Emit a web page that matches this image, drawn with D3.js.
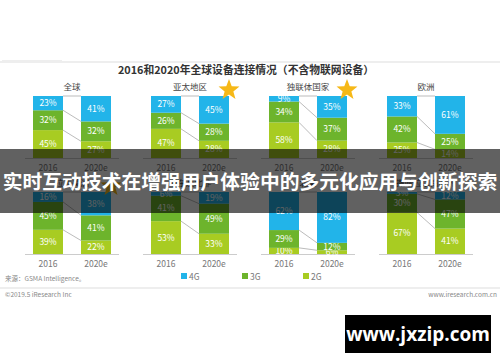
<!DOCTYPE html>
<html>
<head>
<meta charset="utf-8">
<script src="https://cdn.jsdelivr.net/npm/d3@7"></script>
<style>
  body { margin: 0; background: #fff; }
  svg { display: block; font-family: "Noto Sans CJK SC", "Noto Sans", sans-serif; }
</style>
</head>
<body>
<div id="chart"></div>
<script>

// regions, top row then bottom row
const regions = ["全球", "亚太地区", "独联体国家", "欧洲", "拉丁美洲", "中东及北非", "北美", "撒哈拉以南非洲"];
const years = ["2016", "2020e"];
const keys = ["4G", "3G", "2G"];

// share per region (%), index matches regions
const g4_2016 = [23, 27, 9, 33, 16, 6, 62, 3];
const g3_2016 = [32, 26, 34, 42, 45, 41, 29, 30];
const g2_2016 = [45, 47, 58, 25, 39, 53, 10, 67];
const g4_2020 = [41, 45, 35, 61, 38, 19, 82, 12];
const g3_2020 = [32, 28, 37, 25, 41, 49, 12, 47];
const g2_2020 = [27, 28, 28, 14, 22, 33, 6, 41];

const starred = ["亚太地区", "独联体国家", "拉丁美洲"];

const colors = { "4G": "#22b4e9", "3G": "#6db42c", "2G": "#a8cc22" };

const W = 500, H = 362;
const svg = d3.select("#chart").append("svg").attr("width", W).attr("height", H);

// header rule + title
svg.append("line").attr("x1", 0).attr("x2", W).attr("y1", 62).attr("y2", 62)
  .attr("stroke", "#ddd").attr("stroke-width", 1);
svg.append("rect").attr("x", 2).attr("y", 60).attr("width", 60).attr("height", 2).attr("fill", "#eee");
svg.append("text").attr("x", 246).attr("y", 74).attr("text-anchor", "middle")
  .attr("font-size", 10.8).attr("font-weight", "bold").attr("fill", "#333")
  .text("2016和2020年全球设备连接情况（不含物联网设备）");

const xPanel = d3.scaleBand().domain(d3.range(4)).range([13, 485]);
const xYear = d3.scaleBand().domain(years).range([-39, 39]).paddingInner(0.375);
const rows = [d3.scaleLinear().domain([0, 1]).range([158, 96]),
              d3.scaleLinear().domain([0, 1]).range([254, 192])];

const stack = d3.stack().keys(["2G", "3G", "4G"]).offset(d3.stackOffsetExpand);

function star(cx, cy, R, r) {
  let pts = [];
  for (let i = 0; i < 10; i++) {
    let a = -Math.PI / 2 + i * Math.PI / 5;
    let rr = i % 2 ? r : R;
    pts.push([cx + rr * Math.cos(a), cy + rr * Math.sin(a)]);
  }
  return "M" + pts.join("L") + "Z";
}

regions.forEach(function(name, i) {
  const y = rows[Math.floor(i / 4)];
  const cx = xPanel.bandwidth() / 2 + xPanel(i % 4);
  const g = svg.append("g").attr("transform", "translate(" + cx + ",0)");

  const data = [
    { year: "2016", "4G": g4_2016[i], "3G": g3_2016[i], "2G": g2_2016[i] },
    { year: "2020e", "4G": g4_2020[i], "3G": g3_2020[i], "2G": g2_2020[i] }
  ];
  const series = stack(data);

  // baseline
  g.append("line").attr("x1", -47).attr("x2", 47).attr("y1", y(0) + 0.5).attr("y2", y(0) + 0.5)
    .attr("stroke", "#ccc").attr("stroke-width", 1);

  // connectors between boundaries
  series.forEach(function(s) {
    g.append("line")
      .attr("x1", xYear("2016") + xYear.bandwidth()).attr("y1", y(s[0][1]))
      .attr("x2", xYear("2020e")).attr("y2", y(s[1][1]))
      .attr("stroke", "#aaa").attr("stroke-width", 0.8);
  });

  const layer = g.selectAll("g.layer").data(series).enter().append("g")
    .attr("fill", d => colors[d.key]);
  layer.selectAll("rect").data(d => d.map(v => ({ key: d.key, v: v })))
    .enter().append("rect")
      .attr("x", d => xYear(d.v.data.year))
      .attr("width", xYear.bandwidth())
      .attr("y", d => y(d.v[1]))
      .attr("height", d => y(d.v[0]) - y(d.v[1]));
  layer.selectAll("text").data(d => d.map(v => ({ key: d.key, v: v })))
    .enter().append("text")
      .attr("x", d => xYear(d.v.data.year) + xYear.bandwidth() / 2)
      .attr("y", d => (y(d.v[0]) + y(d.v[1])) / 2 + 3)
      .attr("text-anchor", "middle").attr("font-size", 8.5).attr("fill", "#fff")
      .text(d => d.v.data[d.key] + "%");

  // region name
  g.append("text").attr("x", 0).attr("y", y(1) - 6).attr("text-anchor", "middle")
    .attr("font-size", 8.5).attr("fill", "#444").text(name);

  // year labels
  years.forEach(function(yr) {
    g.append("text").attr("x", xYear(yr) + xYear.bandwidth() / 2).attr("y", y(0) + 13)
      .attr("text-anchor", "middle").attr("font-size", 8.5).attr("fill", "#777").text(yr);
  });

  if (starred.includes(name)) {
    g.append("path").attr("d", star(xYear("2020e") + xYear.bandwidth(), y(1) - 6, 11, 4.6))
      .attr("fill", "#f6b817");
  }
});

// legend
const legendX = d3.scalePoint().domain(keys).range([181, 303]);
keys.forEach(function(k) {
  svg.append("rect").attr("x", legendX(k)).attr("y", 273).attr("width", 6).attr("height", 6)
    .attr("fill", colors[k]);
  svg.append("text").attr("x", legendX(k) + 8).attr("y", 279.5).attr("font-size", 8.5)
    .attr("fill", "#777").text(k);
});

// footer
svg.append("text").attr("x", 5).attr("y", 281).attr("font-size", 6.5).attr("fill", "#888")
  .text("来源：GSMA Intelligence。");
svg.append("line").attr("x1", 0).attr("x2", W).attr("y1", 288).attr("y2", 288)
  .attr("stroke", "#ddd").attr("stroke-width", 1);
svg.append("text").attr("x", 5).attr("y", 297).attr("font-size", 6.5).attr("fill", "#888")
  .text("©2019.5 iResearch Inc");
svg.append("text").attr("x", 497).attr("y", 297).attr("text-anchor", "end").attr("font-size", 6.5)
  .attr("fill", "#888").text("www.iresearch.com.cn");

// overlay banner
svg.append("rect").attr("x", 0).attr("y", 149).attr("width", W).attr("height", 64)
  .attr("fill", "#000").attr("opacity", 0.62);
svg.append("text").attr("x", W / 2).attr("y", 189).attr("text-anchor", "middle")
  .attr("font-size", 19.8).attr("font-weight", "bold").attr("fill", "#fff")
  .text("实时互动技术在增强用户体验中的多元化应用与创新探索");

// watermark
svg.append("rect").attr("x", 345).attr("y", 315).attr("width", 146).attr("height", 38).attr("fill", "#000");
svg.append("text").attr("x", 418).attr("y", 341).attr("text-anchor", "middle")
  .attr("font-size", 19).attr("font-weight", "bold").attr("fill", "#fff")
  .attr("font-family", "Open Sans, sans-serif").text("www.jxzip.com");

</script>
</body>
</html>
